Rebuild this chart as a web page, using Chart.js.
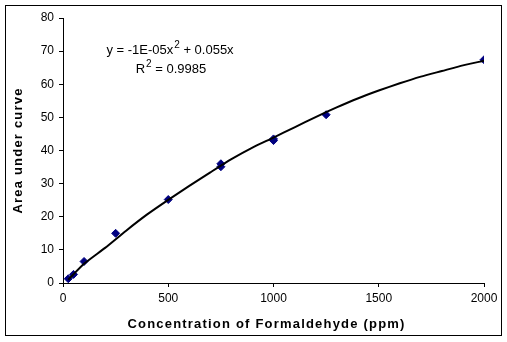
<!DOCTYPE html>
<html>
<head>
<meta charset="utf-8">
<script src="https://cdn.jsdelivr.net/npm/chart.js@4.4.1/dist/chart.umd.min.js"></script>
<style>
  html, body { margin: 0; padding: 0; background: #fff; }
  #wrap { position: relative; width: 507px; height: 342px; }
  #frame { position: absolute; left: 5px; top: 5px; width: 497px; height: 331px; border: 1px solid #000; box-sizing: border-box; }
</style>
</head>
<body>
<div id="wrap">
  <canvas id="chart" width="507" height="342"></canvas>
  <div id="frame"></div>
</div>
<script>
// measured points
const concentration = [25, 50, 100, 250, 500, 750, 750, 1000, 1000, 1250, 2000];
const area = [1.3, 2.6, 6.5, 15.0, 25.2, 36.0, 35.1, 43.5, 43.0, 50.8, 67.4];

// trendline
const trendX = [25, 100, 200, 300, 400, 500, 600, 700, 800, 900, 1000, 1100, 1200, 1300, 1400, 1500, 1600, 1700, 1800, 1900, 2000];
const trendY = [1.0, 5.8, 10.6, 15.8, 20.7, 25.1, 29.3, 33.4, 37.4, 40.9, 43.9, 47.0, 50.1, 53.0, 55.7, 58.1, 60.3, 62.3, 64.0, 65.7, 67.1];

const xTicks = [0, 500, 1000, 1500, 2000];
const yTicks = [0, 10, 20, 30, 40, 50, 60, 70, 80];

// equation pieces: [base, superscript, rest]
const equationLine1 = ['y = -1E-05x', '2', ' + 0.055x'];
const equationLine2 = ['R', '2', ' = 0.9985'];

const FONT = 'Arial, "Liberation Sans", sans-serif';

function drawSupText(ctx, parts, cx, cy) {
    const big = '13px ' + FONT;
    const small = '10px ' + FONT;
    ctx.font = big;
    const w0 = ctx.measureText(parts[0]).width;
    const w2 = ctx.measureText(parts[2]).width;
    ctx.font = small;
    const w1 = ctx.measureText(parts[1]).width + 1;
    let x = cx - (w0 + w1 + w2) / 2;
    ctx.textAlign = 'left';
    ctx.textBaseline = 'middle';
    ctx.font = big;
    ctx.fillText(parts[0], x, cy);
    x += w0;
    ctx.font = small;
    ctx.fillText(parts[1], x + 1, cy - 5);
    x += w1;
    ctx.font = big;
    ctx.fillText(parts[2], x, cy);
}

const equationPlugin = {
    id: 'equation',
    afterDraw(chart) {
        const ctx = chart.ctx;
        ctx.save();
        ctx.fillStyle = '#000';
        drawSupText(ctx, equationLine1, 170, 50);
        drawSupText(ctx, equationLine2, 171, 69);
        ctx.restore();
    }
};

// wider letter spacing on axis titles, like the original
const spacedTitles = {
    id: 'spacedTitles',
    beforeDraw(chart) {
        Object.values(chart.scales).forEach(scale => {
            if (scale._spaced) return;
            const orig = scale.drawTitle.bind(scale);
            const shift = scale.axis === 'x' ? -7 : 0;
            scale.drawTitle = function () {
                const c = this.ctx;
                c.save();
                c.translate(shift, 0);
                c.letterSpacing = '1.2px';
                orig();
                c.restore();
            };
            scale._spaced = true;
        });
    }
};

let ctx = document.getElementById('chart').getContext('2d');
let chart = new Chart(ctx, {
    type: 'scatter',
    data: {
        datasets: [{
            label: 'Trend',
            type: 'line',
            data: trendX.map((x, i) => ({ x: x, y: trendY[i] })),
            borderColor: '#000',
            borderWidth: 2,
            pointRadius: 0,
            tension: 0.2,
            fill: false,
            order: 0
        }, {
            label: 'Area',
            data: concentration.map((x, i) => ({ x: x, y: area[i] })),
            pointStyle: 'rectRot',
            pointRadius: 4,
            backgroundColor: '#000080',
            borderColor: '#000080',
            borderWidth: 1,
            order: 1
        }]
    },
    options: {
        responsive: false,
        animation: false,
        layout: { padding: { left: 6, right: 23, top: 18, bottom: 6 } },
        plugins: {
            legend: { display: false },
            tooltip: { enabled: false }
        },
        scales: {
            x: {
                type: 'linear',
                min: 0,
                max: 2000,
                afterBuildTicks: axis => { axis.ticks = xTicks.map(v => ({ value: v })); },
                afterFit: axis => { axis.height = 53; },
                border: { color: '#000', width: 1 },
                grid: { display: true, drawOnChartArea: false, drawTicks: true, tickLength: 4, color: '#000' },
                ticks: { color: '#000', font: { family: FONT, size: 12 }, padding: 4, maxRotation: 0, callback: v => String(v) },
                title: {
                    display: true,
                    text: 'Concentration of Formaldehyde (ppm)',
                    color: '#000',
                    font: { family: FONT, size: 13, weight: 'bold' },
                    padding: { top: 4, bottom: 4 }
                }
            },
            y: {
                min: 0,
                max: 80,
                afterBuildTicks: axis => { axis.ticks = yTicks.map(v => ({ value: v })); },
                afterFit: axis => { axis.width = 57; },
                border: { color: '#000', width: 1 },
                grid: { display: true, drawOnChartArea: false, drawTicks: true, tickLength: 4, color: '#000' },
                ticks: { color: '#000', font: { family: FONT, size: 12 }, padding: 5 },
                title: {
                    display: true,
                    text: 'Area under curve',
                    color: '#000',
                    font: { family: FONT, size: 13, weight: 'bold' },
                    padding: { top: 5, bottom: 4 }
                }
            }
        }
    },
    plugins: [equationPlugin, spacedTitles]
});
</script>
</body>
</html>
